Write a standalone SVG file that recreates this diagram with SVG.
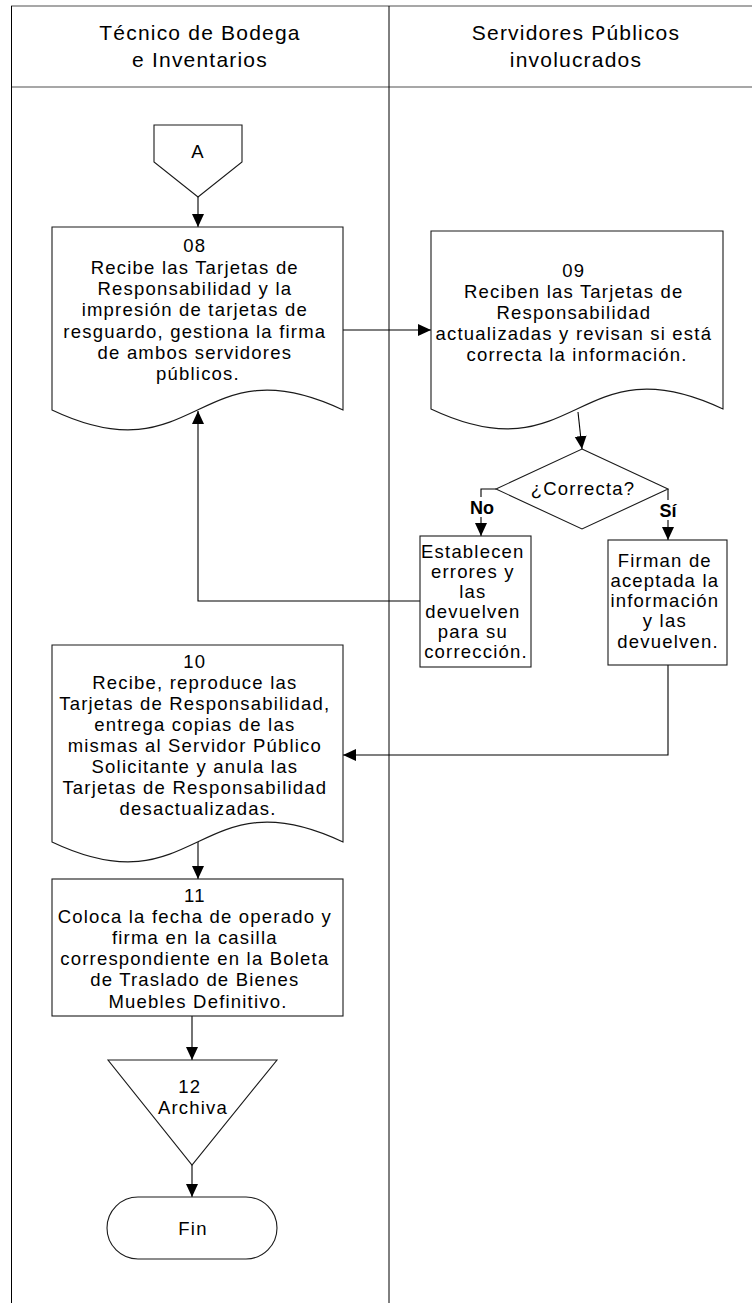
<svg xmlns="http://www.w3.org/2000/svg" width="752" height="1303" viewBox="0 0 752 1303">
  <style>
    .frame { stroke: #000; stroke-width: 1; fill: none; }
    .rule { stroke: #8a8a8a; stroke-width: 1.6; fill: none; }
    .shape { fill: #fff; stroke: #1a1a1a; stroke-width: 1.1; }
    .conn { fill: none; stroke: #000; stroke-width: 1.1; }
    .hdr { font-family: "Liberation Sans", Arial, sans-serif; font-size: 21px; letter-spacing: 1.2px; fill: #000; text-anchor: middle; }
    .txt { font-family: "Liberation Sans", Arial, sans-serif; font-size: 18.5px; letter-spacing: 1.2px; fill: #000; text-anchor: middle; }
    .lbl { font-family: "Liberation Sans", Arial, sans-serif; font-size: 18px; font-weight: bold; fill: #000; text-anchor: middle; }
  </style>
  <defs>
    <marker id="arrow" markerUnits="userSpaceOnUse" markerWidth="14" markerHeight="14" viewBox="0 0 14 14" refX="13" refY="7" orient="auto">
      <path d="M0,1 L13,7 L0,13 Z" fill="#000"/>
    </marker>
  </defs>

  <!-- swimlane frame -->
  <g id="lanes">
    <line class="rule" x1="11" y1="6" x2="752" y2="6"/>
    <line class="rule" x1="11" y1="87" x2="752" y2="87"/>
    <line class="frame" x1="11.5" y1="6" x2="11.5" y2="1303"/>
    <line class="frame" x1="389" y1="6" x2="389" y2="1303"/>
    <text class="hdr" x="200" y="40">Técnico de Bodega</text>
    <text class="hdr" x="200" y="67">e Inventarios</text>
    <text class="hdr" x="576" y="40">Servidores Públicos</text>
    <text class="hdr" x="576" y="67">involucrados</text>
  </g>

  <!-- connectors -->
  <g id="connectors">
    <line class="conn" x1="198" y1="197" x2="198" y2="227" marker-end="url(#arrow)"/>
    <line class="conn" x1="343" y1="330" x2="431" y2="330" marker-end="url(#arrow)"/>
    <line class="conn" x1="578" y1="412" x2="582" y2="449" marker-end="url(#arrow)"/>
    <polyline class="conn" points="496,489 481,489 481,536" marker-end="url(#arrow)"/>
    <polyline class="conn" points="668,489 668,540" marker-end="url(#arrow)"/>
    <polyline class="conn" points="421,601 198,601 198,411" marker-end="url(#arrow)"/>
    <polyline class="conn" points="668,665 668,755 343,755" marker-end="url(#arrow)"/>
    <line class="conn" x1="198" y1="842" x2="198" y2="879" marker-end="url(#arrow)"/>
    <line class="conn" x1="192" y1="1016" x2="192" y2="1060" marker-end="url(#arrow)"/>
    <line class="conn" x1="192" y1="1165" x2="192" y2="1197" marker-end="url(#arrow)"/>
  </g>

  <!-- branch labels -->
  <g id="branch-labels">
    <rect x="468" y="497" width="28" height="20" fill="#fff"/>
    <text class="lbl" x="482" y="514">No</text>
    <rect x="656" y="500" width="24" height="20" fill="#fff"/>
    <text class="lbl" x="668" y="517">Sí</text>
  </g>

  <g id="connector-A">
    <polygon class="shape" points="154,125 242,125 242,162 198,197 154,162"/>
    <text class="txt" x="198" y="158">A</text>
  </g>

  <g id="step-08">
    <path class="shape" d="M52,227 H343 V410 C197.5,341 197.5,479 52,410 Z"/>
    <text class="txt">
      <tspan x="198" y="252">08</tspan>
      <tspan x="198" y="274">Recibe las Tarjetas de</tspan>
      <tspan x="198" y="295">Responsabilidad y la</tspan>
      <tspan x="198" y="316">impresión de tarjetas de</tspan>
      <tspan x="198" y="338">resguardo, gestiona la firma</tspan>
      <tspan x="198" y="359">de ambos servidores</tspan>
      <tspan x="198" y="380">públicos.</tspan>
    </text>
  </g>

  <g id="step-09">
    <path class="shape" d="M431,231 H723 V409 C577,340 577,478 431,409 Z"/>
    <text class="txt">
      <tspan x="577" y="277">09</tspan>
      <tspan x="577" y="298">Reciben las Tarjetas de</tspan>
      <tspan x="577" y="319">Responsabilidad</tspan>
      <tspan x="577" y="340">actualizadas y revisan si está</tspan>
      <tspan x="577" y="361">correcta la información.</tspan>
    </text>
  </g>

  <g id="decision-correcta">
    <polygon class="shape" points="582,449 668,489 582,529 496,489"/>
    <text class="txt" x="583" y="495">¿Correcta?</text>
  </g>

  <g id="step-errores">
    <rect class="shape" x="420" y="536" width="111" height="131"/>
    <text class="txt">
      <tspan x="476" y="558">Establecen</tspan>
      <tspan x="476" y="578">errores y</tspan>
      <tspan x="476" y="598">las</tspan>
      <tspan x="476" y="618">devuelven</tspan>
      <tspan x="476" y="638">para su</tspan>
      <tspan x="476" y="658">corrección.</tspan>
    </text>
  </g>

  <g id="step-firman">
    <rect class="shape" x="608" y="540" width="119" height="125"/>
    <text class="txt">
      <tspan x="668" y="567">Firman de</tspan>
      <tspan x="668" y="587">aceptada la</tspan>
      <tspan x="668" y="607">información</tspan>
      <tspan x="668" y="627">y las</tspan>
      <tspan x="668" y="648">devuelven.</tspan>
    </text>
  </g>

  <g id="step-10">
    <path class="shape" d="M52,645 H343 V842 C197.5,773 197.5,911 52,842 Z"/>
    <text class="txt">
      <tspan x="198" y="668">10</tspan>
      <tspan x="198" y="689">Recibe, reproduce las</tspan>
      <tspan x="198" y="710">Tarjetas de Responsabilidad,</tspan>
      <tspan x="198" y="731">entrega copias de las</tspan>
      <tspan x="198" y="752">mismas al Servidor Público</tspan>
      <tspan x="198" y="773">Solicitante y anula las</tspan>
      <tspan x="198" y="794">Tarjetas de Responsabilidad</tspan>
      <tspan x="198" y="815">desactualizadas.</tspan>
    </text>
  </g>

  <g id="step-11">
    <rect class="shape" x="52" y="879" width="291" height="137"/>
    <text class="txt">
      <tspan x="198" y="902">11</tspan>
      <tspan x="198" y="923">Coloca la fecha de operado y</tspan>
      <tspan x="198" y="944">firma en la casilla</tspan>
      <tspan x="198" y="965">correspondiente en la Boleta</tspan>
      <tspan x="198" y="986">de Traslado de Bienes</tspan>
      <tspan x="198" y="1008">Muebles Definitivo.</tspan>
    </text>
  </g>

  <g id="step-12">
    <polygon class="shape" points="108,1060 277,1060 192,1165"/>
    <text class="txt">
      <tspan x="193" y="1093">12</tspan>
      <tspan x="193" y="1114">Archiva</tspan>
    </text>
  </g>

  <g id="end">
    <rect class="shape" x="107" y="1197" width="170" height="62" rx="31" ry="31"/>
    <text class="txt" x="193" y="1235">Fin</text>
  </g>
</svg>
